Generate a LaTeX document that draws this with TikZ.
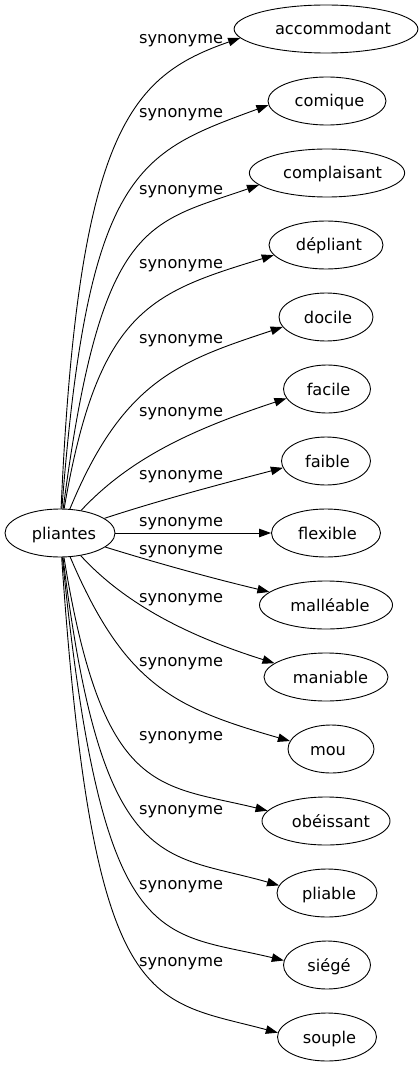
\documentclass[tikz,border=0pt]{standalone}
\usepackage{fontspec}
\setmainfont{DejaVu Sans}
\usetikzlibrary{arrows.meta,shapes.geometric}
\begin{document}
\begin{tikzpicture}[x=1pt,y=-1pt,
  font=\fontsize{16.2}{19}\selectfont,
  term/.style={draw, ellipse, inner sep=0pt, minimum height=48pt, text height=12pt, text depth=0pt, line width=0.9pt},
  rel/.style={anchor=base west, inner sep=0pt},
  link/.style={draw, line width=0.9pt, -{Triangle[length=12pt,width=8.5pt]}}]
\useasboundingbox (0,0) rectangle (419,1067);
% nodes
\node[term, minimum width=110pt] (p) at (60,533) {\hspace*{8pt}pliantes};
\node[term, minimum width=174pt] (acc) at (326,29) {\hspace*{14pt}accommodant};
\node[term, minimum width=118pt] (com) at (327,101) {\hspace*{5pt}comique};
\node[term, minimum width=155pt] (cmp) at (327,173) {\hspace*{11pt}complaisant};
\node[term, minimum width=114pt] (dep) at (326,245) {\hspace*{6pt}dépliant};
\node[term, minimum width=94pt] (doc) at (326,317) {\hspace*{4pt}docile};
\node[term, minimum width=87pt] (fac) at (327,389) {\hspace*{3pt}facile};
\node[term, minimum width=89pt] (fai) at (326,461) {\hspace*{3pt}faible};
\node[term, minimum width=109pt] (flx) at (326,533) {\hspace*{3pt}flexible};
\node[term, minimum width=133pt] (mal) at (326,605) {\hspace*{8pt}malléable};
\node[term, minimum width=124pt] (man) at (326,677) {\hspace*{9pt}maniable};
\node[term, minimum width=86pt] (mou) at (331,749) {\hspace*{-6pt}mou};
\node[term, minimum width=128pt] (obe) at (326,821) {\hspace*{10pt}obéissant};
\node[term, minimum width=100pt] (pla) at (327,893) {\hspace*{4pt}pliable};
\node[term, minimum width=87pt] (sie) at (327,965) {\hspace*{4pt}siégé};
\node[term, minimum width=99pt] (sou) at (327,1037) {\hspace*{5pt}souple};
% edges
\draw[link] (p) .. controls (78,129) and (131,76) .. (acc.186);
\draw[link] (p) .. controls (88,169) and (138,153) .. (com.184);
\draw[link] (p) .. controls (101,219) and (147,224) .. (cmp.190);
\draw[link] (p) .. controls (98,310) and (150,293) .. (dep.191);
\draw[link] (p) .. controls (123,380) and (180,361) .. (doc.193);
\draw[link] (p) .. controls (132,456) and (197,428) .. (fac.193);
\draw[link] (p) .. controls (160,500) and (225,483) .. (fai.189);
\draw[link] (p) -- (flx);
\draw[link] (p) .. controls (160,564) and (215,579) .. (mal.167);
\draw[link] (p) .. controls (125,604) and (188,636) .. (man.165);
\draw[link] (p) .. controls (125,686) and (175,708) .. (mou.169);
\draw[link] (p) .. controls (103,797) and (158,784) .. (obe.170);
\draw[link] (p) .. controls (102,877) and (163,852) .. (pla.171);
\draw[link] (p) .. controls (102,957) and (158,930) .. (sie.174);
\draw[link] (p) .. controls (93,1017) and (148,998) .. (sou.175);
% labels
\node[rel] (l1) at (139,43.4) {synonyme};
\node[rel] (l2) at (139,117.4) {synonyme};
\node[rel] (l3) at (139,194.4) {synonyme};
\node[rel] (l4) at (139,268.4) {synonyme};
\node[rel] (l5) at (139,343.4) {synonyme};
\node[rel] (l6) at (139,416.4) {synonyme};
\node[rel] (l7) at (139,479.4) {synonyme};
\node[rel] (l8) at (139,526.4) {synonyme};
\node[rel] (l9) at (139,554.4) {synonyme};
\node[rel] (l10) at (139,602.4) {synonyme};
\node[rel] (l11) at (139,666.4) {synonyme};
\node[rel] (l12) at (139,740.4) {synonyme};
\node[rel] (l13) at (139,814.4) {synonyme};
\node[rel] (l14) at (139,889.4) {synonyme};
\node[rel] (l15) at (139,966.4) {synonyme};
\end{tikzpicture}
\end{document}
